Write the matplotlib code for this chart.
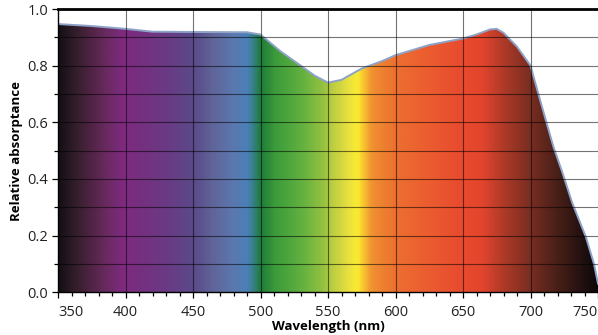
import matplotlib
matplotlib.use("Agg")
import matplotlib.pyplot as plt
import numpy as np
from matplotlib.colors import LinearSegmentedColormap
from matplotlib.ticker import MultipleLocator

# absorptance curve
wavelength = [350, 375, 400, 420, 450, 490, 500, 505, 515, 531, 540, 550, 560,
              575, 590, 600, 625, 650, 660, 670, 675, 680, 690, 700, 705,
              712, 717, 723, 731, 741, 747, 750]
absorptance = [0.947, 0.940, 0.930, 0.920, 0.919, 0.918, 0.910, 0.890, 0.850,
               0.796, 0.765, 0.740, 0.750, 0.790, 0.816, 0.837, 0.873, 0.896,
               0.910, 0.928, 0.930, 0.916, 0.867, 0.800, 0.714, 0.596, 0.513,
               0.431, 0.314, 0.195, 0.100, 0.030]

x_ticks = [350, 400, 450, 500, 550, 600, 650, 700, 750]
y_ticks = [0.0, 0.2, 0.4, 0.6, 0.8, 1.0]

# spectrum colours behind the curve
stop_nm = [350, 365, 385, 398, 410, 430, 450, 465, 480, 490, 496, 500, 510,
           530, 545, 555, 565, 572, 577, 583, 600, 620, 650, 665, 680, 700,
           720, 740, 750]
stop_colors = ["#151015", "#3a2030", "#6a2a60", "#7e2a80", "#75307f",
               "#6a3a85", "#5a4a88", "#60659a", "#5a78b0", "#4a80b8",
               "#2f7f70", "#1f7a3a", "#3a9a3a", "#60b040", "#90c040",
               "#c0d040", "#e8e040", "#fbeb30", "#f7c030", "#f09030",
               "#ec7030", "#ec6030", "#e84a2e", "#e2452d", "#b03a28",
               "#7a2e22", "#4a2018", "#201010", "#0e0808"]

plt.rcParams['font.family'] = ['Open Sans', 'DejaVu Sans']

fig = plt.figure(figsize=(5.98, 3.35), dpi=100)
ax = fig.add_axes([0.097, 0.128, 0.903, 0.845])

lo, hi = stop_nm[0], stop_nm[-1]
cmap = LinearSegmentedColormap.from_list(
    "spec", [((n - lo) / (hi - lo), c) for n, c in zip(stop_nm, stop_colors)])
grad = np.linspace(0, 1, 800).reshape(1, -1)
img = ax.imshow(grad, cmap=cmap, aspect="auto", extent=(lo, hi, 0, 1),
                origin="lower", zorder=1)
poly = ax.fill_between(wavelength, absorptance, 0, color="none", lw=0)
img.set_clip_path(poly.get_paths()[0], transform=ax.transData)
ax.plot(wavelength, absorptance, color="#8ea2c8", lw=1.4, zorder=2)

ax.set_xlim(350, 750)
ax.set_ylim(0, 1.0)
ax.set_xticks(x_ticks, [str(v) for v in x_ticks])
ax.set_yticks(y_ticks, [f"{v:.1f}" for v in y_ticks])
ax.xaxis.set_minor_locator(MultipleLocator(10))
ax.yaxis.set_minor_locator(MultipleLocator(0.1))

for x in x_ticks[1:-1]:
    ax.axvline(x, color="black", lw=0.8, alpha=0.55, zorder=3)
for y in np.arange(0.1, 0.95, 0.1):
    ax.axhline(y, color="black", lw=0.8, alpha=0.55, zorder=3)

ax.tick_params(axis="both", which="major", labelsize=10.5, length=4,
               width=0.9, color="black", labelcolor="#222222")
ax.tick_params(axis="both", which="minor", length=3, width=0.9)
ax.tick_params(axis="x", pad=5)
ax.tick_params(axis="y", pad=3)

xt = ax.xaxis.get_major_ticks()
xt[0].label1.set_horizontalalignment("left")
xt[-1].label1.set_horizontalalignment("right")

for s in ["left", "bottom"]:
    ax.spines[s].set_linewidth(1.0)
ax.spines["top"].set_linewidth(2.0)
ax.spines["right"].set_visible(False)
for s in ax.spines.values():
    s.set_zorder(4)

ax.set_xlabel("Wavelength (nm)", fontsize=9.5, fontweight="bold", labelpad=0)
ax.set_ylabel("Relative absorptance", fontsize=9.5, fontweight="bold", labelpad=3)

fig.savefig("out.png", dpi=100)
